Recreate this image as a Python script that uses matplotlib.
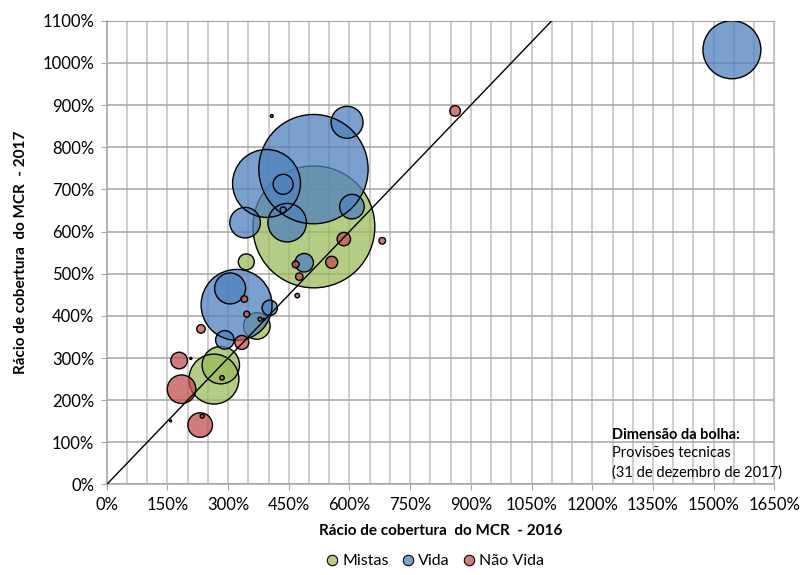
import numpy as np
import matplotlib.pyplot as plt
from matplotlib.ticker import MultipleLocator, FuncFormatter
from matplotlib.lines import Line2D
from matplotlib.colors import to_rgba

plt.rcParams['font.family'] = ['Lato', 'DejaVu Sans']

# Rácio de cobertura do MCR (%) - 2016 (x) e 2017 (y); dimensão = provisões técnicas (unid. relativas)
mistas_x = [512, 345, 371, 282, 265]
mistas_y = [611, 528, 376, 283, 250]
mistas_pt = [3721, 64, 177, 350, 625]

vida_x = [511, 395, 436, 436, 594, 606, 342, 446, 488, 321, 305, 403, 292, 1545]
vida_y = [748, 714, 712, 651, 859, 659, 621, 621, 526, 426, 465, 419, 343, 1031]
vida_pt = [2992, 1156, 100, 9, 256, 151, 234, 372, 86, 1260, 240, 59, 86, 841]

naovida_x = [408, 861, 586, 681, 556, 467, 476, 471, 340, 346, 379, 389, 334, 233,
             285, 179, 208, 185, 231, 236, 158]
naovida_y = [874, 886, 582, 578, 527, 522, 493, 448, 440, 404, 392, 392, 337, 369,
             253, 294, 299, 226, 141, 162, 151]
naovida_pt = [2, 28, 45, 11, 36, 12, 14, 5, 11, 9, 4, 1, 49, 18,
              5, 69, 1, 204, 151, 4, 1]

SERIES = [
    ("Mistas", mistas_x, mistas_y, mistas_pt, "#9BBB59"),
    ("Vida", vida_x, vida_y, vida_pt, "#4F81BD"),
    ("Não Vida", naovida_x, naovida_y, naovida_pt, "#C0504D"),
]
BUBBLE_SCALE = 2.07  # pt^2 por unidade
ALPHA = 0.75

fig = plt.figure(figsize=(8.07, 5.75), dpi=100)
ax = fig.add_axes([0.1322, 0.1574, 0.8274, 0.8066])

for name, xs, ys, pt, col in SERIES:
    ax.scatter(xs, ys, s=np.array(pt) * BUBBLE_SCALE, color=col, alpha=ALPHA,
               edgecolors='none', zorder=3)
    ax.scatter(xs, ys, s=np.array(pt) * BUBBLE_SCALE, facecolors='none',
               edgecolors='black', linewidths=1.0, zorder=3)

# linha de 45 graus
ax.plot([0, 1650], [0, 1650], color='black', lw=1.0, zorder=4)

ax.set_xlim(0, 1650)
ax.set_ylim(0, 1100)
ax.xaxis.set_major_locator(MultipleLocator(150))
ax.xaxis.set_minor_locator(MultipleLocator(50))
ax.yaxis.set_major_locator(MultipleLocator(100))
pct = FuncFormatter(lambda v, p: f"{int(round(v))}%")
ax.xaxis.set_major_formatter(pct)
ax.yaxis.set_major_formatter(pct)

ax.set_axisbelow(True)
ax.grid(axis='y', which='major', color='#A6A6A6', lw=1.1)
ax.grid(axis='x', which='both', color='#C0C0C0', lw=1.1)
ax.tick_params(axis='x', which='minor', length=0)
ax.tick_params(axis='both', which='major', length=4, color='#A6A6A6',
               labelsize=12, labelcolor='black', pad=5)
for s in ['left', 'bottom']:
    ax.spines[s].set_color('#A6A6A6')
    ax.spines[s].set_linewidth(1.1)
ax.spines['top'].set_color('#A6A6A6')
ax.spines['right'].set_color('#C0C0C0')

ax.set_xlabel('Rácio de cobertura  do MCR  - 2016', fontsize=11, fontweight='bold', labelpad=8)
ax.set_ylabel('Rácio de cobertura  do MCR  - 2017', fontsize=11, fontweight='bold', labelpad=10)

ax.text(1249, 117, 'Dimensão da bolha:', fontsize=10.5, fontweight='bold', va='center', ha='left')
ax.text(1249, 75, 'Provisões tecnicas', fontsize=10.5, va='center', ha='left')
ax.text(1249, 29, '(31 de dezembro de 2017)', fontsize=10.5, va='center', ha='left', clip_on=False)

handles = [Line2D([], [], marker='o', ls='none', markersize=7.5, markerfacecolor=to_rgba(c, ALPHA),
                  markeredgecolor='black', markeredgewidth=0.8)
           for _, _, _, _, c in SERIES]
fig.legend(handles, [s[0] for s in SERIES], loc='center', bbox_to_anchor=(0.538, 0.0243),
           ncol=3, frameon=False, fontsize=11.5, handletextpad=0.15, columnspacing=0.7,
           handlelength=1.0)

plt.savefig('out.png', dpi=100)
